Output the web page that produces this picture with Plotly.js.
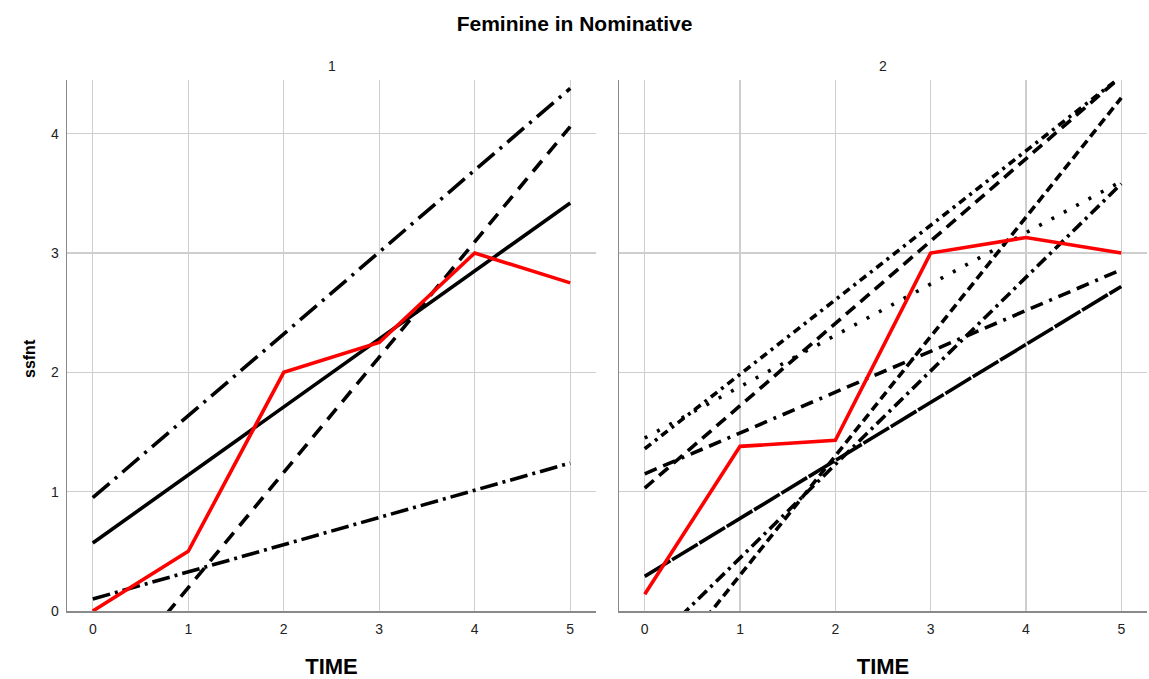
<!DOCTYPE html>
<html>
<head>
<meta charset="utf-8">
<script src="https://cdn.plot.ly/plotly-3.0.1.min.js"></script>
<style>
  html, body { margin: 0; padding: 0; background: #fff; }
  #chart { width: 1149px; height: 679px; }
</style>
</head>
<body>
<div id="chart"></div>
<script>
// Observed means over TIME for each group
const TIME = [0, 1, 2, 3, 4, 5];
const group1Mean = [0, 0.5, 2.0, 2.25, 3.0, 2.75];
const group2Mean = [0.14, 1.38, 1.43, 3.0, 3.13, 3.0];

// Individual fitted trajectories, given at TIME 0 and TIME 5
const FIT_TIME = [0, 5];
const group1FitSolid = [0.57, 3.42];
const group1FitDashDotHigh = [0.95, 4.38];
const group1FitDashed = [-0.77, 4.06];
const group1FitDashDotLow = [0.10, 1.24];

const group2FitDotted = [1.45, 3.60];
const group2FitDotDash = [1.36, 4.48];
const group2FitDashed = [1.03, 4.48];
const group2FitDashDot = [1.15, 2.86];
const group2FitLongDash = [0.29, 2.72];
const group2FitSteepDashed = [-0.70, 4.30];
const group2FitSteepDashDot = [-0.34, 3.58];

const panelLabels = ['1', '2'];
const xTicks = [0, 1, 2, 3, 4, 5];
const yTicks = [0, 1, 2, 3, 4];

const BLACK = '#000000';
const RED = '#ff0000';
const LW = 3.6;

function fit(y, dash, xa, ya) {
  return {
    x: FIT_TIME, y: y, xaxis: xa, yaxis: ya,
    type: 'scatter', mode: 'lines', hoverinfo: 'skip',
    line: { color: BLACK, width: LW, dash: dash }
  };
}
function mean(y, xa, ya) {
  return {
    x: TIME, y: y, xaxis: xa, yaxis: ya,
    type: 'scatter', mode: 'lines', hoverinfo: 'skip',
    line: { color: RED, width: LW }
  };
}

const traces = [
  fit(group1FitSolid, 'solid', 'x', 'y'),
  fit(group1FitDashDotHigh, '22px,7px,3px,7px', 'x', 'y'),
  fit(group1FitDashed, '14px,9px', 'x', 'y'),
  fit(group1FitDashDotLow, '18px,5px,3px,5px', 'x', 'y'),
  mean(group1Mean, 'x', 'y'),

  fit(group2FitDotted, '3px,11px', 'x2', 'y2'),
  fit(group2FitDotDash, '8px,5px,3px,5px', 'x2', 'y2'),
  fit(group2FitDashed, '12px,7px', 'x2', 'y2'),
  fit(group2FitDashDot, '13px,7px,13px,7px,3px,7px', 'x2', 'y2'),
  fit(group2FitLongDash, '30px,2px', 'x2', 'y2'),
  fit(group2FitSteepDashed, '9px,5px', 'x2', 'y2'),
  fit(group2FitSteepDashDot, '12px,5px,3px,5px', 'x2', 'y2'),
  mean(group2Mean, 'x2', 'y2')
];

const FONT = 'Liberation Sans, Arial, sans-serif';
const W = 1149;
const H = 679;

function xAxis(d0, d1, anchor) {
  return {
    domain: [d0 / W, d1 / W], anchor: anchor,
    range: [-0.27, 5.27], tickvals: xTicks, ticktext: xTicks.map(String),
    showgrid: true, gridcolor: '#cecece', gridwidth: 1.3,
    showline: true, linecolor: '#8a8a8a', linewidth: 1.5,
    zeroline: false, ticks: 'outside', ticklen: 5, tickcolor: 'rgba(0,0,0,0)',
    tickfont: { family: FONT, size: 14, color: '#222' },
    automargin: false,
    title: { text: 'TIME', font: { family: FONT, size: 22, color: '#000', weight: 'bold' }, standoff: 23 }
  };
}
function yAxis(anchor, labels) {
  return {
    domain: [0, 1], anchor: anchor,
    range: [0, 4.45], tickvals: yTicks, ticktext: yTicks.map(String),
    showgrid: true, gridcolor: '#cecece', gridwidth: 1.3,
    showline: true, linecolor: '#8a8a8a', linewidth: 1.5,
    zeroline: false, ticks: 'outside', ticklen: 4, tickcolor: 'rgba(0,0,0,0)',
    showticklabels: labels,
    tickfont: { family: FONT, size: 14, color: '#222' },
    automargin: false
  };
}

const yRight = yAxis('x2', false);
yRight.matches = 'y';

const layout = {
  width: W, height: H,
  margin: { l: 0, r: 0, t: 80, b: 68, pad: 0 },
  paper_bgcolor: '#ffffff', plot_bgcolor: '#ffffff',
  showlegend: false,
  font: { family: FONT, color: '#000' },
  title: {
    text: 'Feminine in Nominative',
    font: { family: FONT, size: 21, color: '#000', weight: 'bold' },
    x: 0.5, xanchor: 'center', xref: 'paper',
    y: 1 - 24 / H, yanchor: 'middle', yref: 'container'
  },
  xaxis: xAxis(67, 596, 'y'),
  xaxis2: xAxis(619, 1147, 'y2'),
  yaxis: yAxis('x', true),
  yaxis2: yRight,
  annotations: [
    { text: panelLabels[0], xref: 'x domain', yref: 'paper', x: 0.5, y: 1, yshift: 14,
      xanchor: 'center', yanchor: 'middle', showarrow: false,
      font: { family: FONT, size: 14, color: '#222' } },
    { text: panelLabels[1], xref: 'x2 domain', yref: 'paper', x: 0.5, y: 1, yshift: 14,
      xanchor: 'center', yanchor: 'middle', showarrow: false,
      font: { family: FONT, size: 14, color: '#222' } },
    // y-axis title
    { text: '<b>ssfnt</b>', xref: 'paper', yref: 'paper', x: 30 / W, y: (611 - 359) / 531,
      xanchor: 'center', yanchor: 'middle', textangle: -90, showarrow: false,
      font: { family: FONT, size: 16, color: '#000' } }
  ]
};

Plotly.newPlot('chart', traces, layout, { staticPlot: true, displayModeBar: false });
</script>
</body>
</html>
